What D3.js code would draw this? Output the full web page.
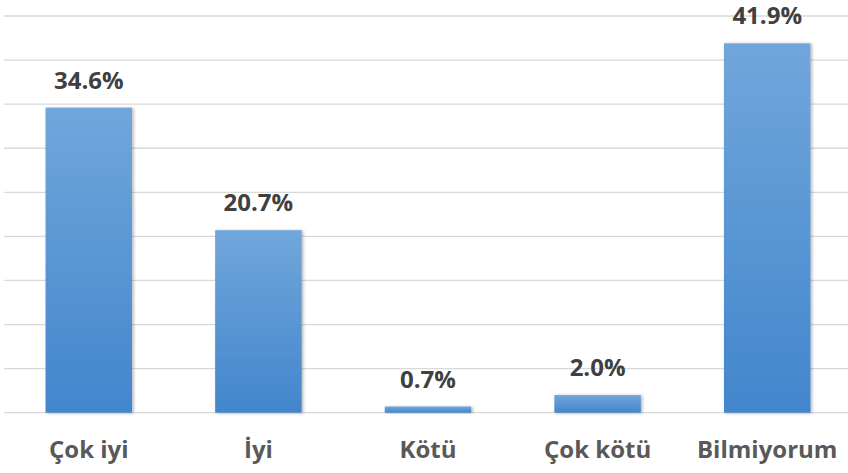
<!DOCTYPE html>
<html>
<head>
<meta charset="utf-8">
<script src="https://cdn.jsdelivr.net/npm/d3@7"></script>
<style>
  body { margin: 0; background: #fff; }
</style>
</head>
<body>
<div id="chart"></div>
<script>
// chart data
const categories = ["Çok iyi", "İyi", "Kötü", "Çok kötü", "Bilmiyorum"];
const values = [34.6, 20.7, 0.7, 2.0, 41.9];
const valueLabels = ["34.6%", "20.7%", "0.7%", "2.0%", "41.9%"];
const gridTicks = [0, 5, 10, 15, 20, 25, 30, 35, 40, 45];

const width = 848, height = 473;
const margin = {top: 16, right: -4, bottom: 60, left: 4};

const svg = d3.select("#chart").append("svg")
    .attr("width", width)
    .attr("height", height);

const defs = svg.append("defs");
const grad = defs.append("linearGradient")
    .attr("id", "barGrad")
    .attr("x1", 0).attr("y1", 0).attr("x2", 0).attr("y2", 1);
grad.append("stop").attr("offset", "0%").attr("stop-color", "#71a6db");
grad.append("stop").attr("offset", "100%").attr("stop-color", "#4286cd");

const shadow = defs.append("filter").attr("id", "shadow")
    .attr("x", "-20%").attr("y", "-20%").attr("width", "140%").attr("height", "140%");
shadow.append("feDropShadow")
    .attr("dx", 1.5).attr("dy", 0.5).attr("stdDeviation", 1.5)
    .attr("flood-color", "#000").attr("flood-opacity", 0.3);

const x = d3.scaleBand()
    .domain(categories)
    .range([margin.left, width - margin.right])
    .paddingInner(0.49)
    .paddingOuter(0.245);

const y = d3.scaleLinear()
    .domain([0, 45])
    .range([height - margin.bottom - 0.3, margin.top]);

// gridlines
svg.append("g").selectAll("line").data(gridTicks)
    .enter()
    .append("line")
    .attr("x1", margin.left)
    .attr("x2", width)
    .attr("y1", d => y(d))
    .attr("y2", d => y(d))
    .attr("stroke", "#d9d9d9")
    .attr("stroke-width", 1.3);

// bars
svg.append("g").selectAll("rect").data(values)
    .enter()
    .append("rect")
    .attr("x", (d, i) => x(categories[i]))
    .attr("y", d => y(d))
    .attr("width", x.bandwidth())
    .attr("height", d => y(0) - y(d))
    .attr("fill", "url(#barGrad)")
    .attr("filter", "url(#shadow)");

// value labels
svg.append("g").selectAll("text").data(values)
    .enter()
    .append("text")
    .attr("x", (d, i) => x(categories[i]) + x.bandwidth() / 2)
    .attr("y", d => y(d) - 19)
    .attr("text-anchor", "middle")
    .attr("fill", "#404040")
    .style("font-family", "'Open Sans', sans-serif")
    .style("font-weight", "bold")
    .style("font-size", "24px")
    .text((d, i) => valueLabels[i]);

// category labels
const xAxis = svg.append("g")
    .attr("transform", `translate(0,${y(0)})`)
    .call(d3.axisBottom(x).tickSize(0).tickPadding(0));
xAxis.select(".domain").remove();
xAxis.selectAll("text")
    .attr("y", 45)
    .attr("dy", null)
    .attr("fill", "#595959")
    .style("font-family", "'Open Sans', sans-serif")
    .style("font-weight", "bold")
    .style("font-size", "24px");
</script>
</body>
</html>
